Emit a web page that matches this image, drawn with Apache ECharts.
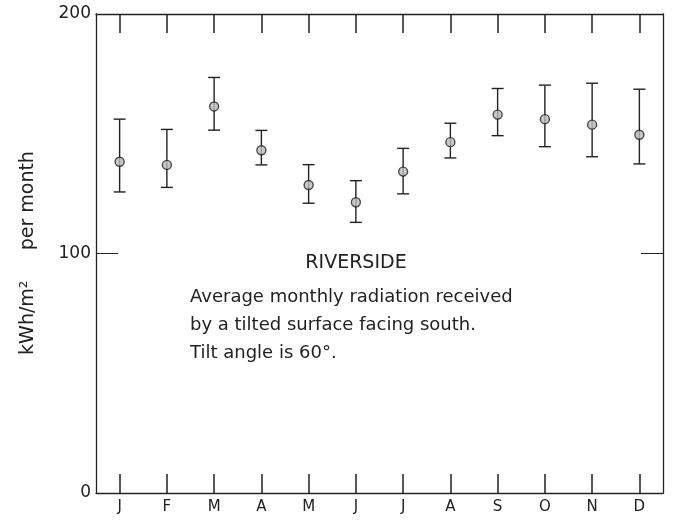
<!DOCTYPE html>
<html>
<head>
<meta charset="utf-8">
<script src="https://cdn.jsdelivr.net/npm/echarts@6/dist/echarts.min.js"></script>
<style>html,body{margin:0;padding:0;background:#fff;}#c{width:673px;height:520px;}</style>
</head>
<body>
<div id="c"></div>
<script>
const months = ['J','F','M','A','M','J','J','A','S','O','N','D'];
const meanValues = [138.3, 137.0, 161.4, 143.1, 128.6, 121.4, 134.2, 146.5, 158.0, 156.1, 153.8, 149.6];
const upperValues = [156.1, 151.8, 173.5, 151.4, 137.1, 130.4, 143.9, 154.4, 168.9, 170.3, 171.1, 168.6];
const lowerValues = [125.7, 127.6, 151.5, 137.0, 121.0, 113.0, 124.9, 139.9, 149.2, 144.6, 140.4, 137.4];
const yTicks = [0, 100, 200];
const titleText = 'RIVERSIDE';
const noteLines = ['Average monthly radiation received', 'by a tilted surface facing south.', 'Tilt angle is 60°.'];
const yAxisTitle = 'kWh/m²     per month';

const FONT = 'DejaVu Sans';
const INK = '#222';
const chart = echarts.init(document.getElementById('c'));

const errData = months.map((m, i) => [i, lowerValues[i], upperValues[i]]);

const xCommon = {
  type: 'category', data: months,
  axisLine: {show: true, onZero: false, lineStyle: {color: INK, width: 1.3}},
  axisTick: {show: true, inside: true, alignWithLabel: true, length: 19, lineStyle: {color: INK, width: 1.5}},
  splitLine: {show: false}
};

chart.setOption({
  animation: false,
  backgroundColor: '#fff',
  grid: {left: 96, right: 10, top: 14, bottom: 27, containLabel: false},
  xAxis: [
    Object.assign({}, xCommon, {position: 'bottom',
      axisLabel: {show: true, color: INK, fontFamily: FONT, fontSize: 15, margin: 7}}),
    Object.assign({}, xCommon, {position: 'top', axisLabel: {show: false}})
  ],
  yAxis: [{
    type: 'value', min: 0, max: 200, interval: 100, position: 'left',
    axisLine: {show: true, onZero: false, lineStyle: {color: INK, width: 1.3}},
    axisTick: {show: true, inside: true, length: 22, lineStyle: {color: INK, width: 1}},
    axisLabel: {color: INK, fontFamily: FONT, fontSize: 17, margin: 5,
      formatter: v => yTicks.includes(v) ? String(v) : ''},
    splitLine: {show: false}
  }, {
    type: 'value', min: 0, max: 200, interval: 100, position: 'right',
    axisLine: {show: true, onZero: false, lineStyle: {color: INK, width: 1.3}},
    axisTick: {show: true, inside: true, length: 22, lineStyle: {color: INK, width: 1}},
    axisLabel: {show: false},
    splitLine: {show: false}
  }],
  graphic: [
    {type: 'text', x: 356, y: 263, style: {text: titleText, font: '19px "DejaVu Sans"', fill: INK, align: 'center', verticalAlign: 'middle', letterSpacing: 1}},
    {type: 'text', left: 190, top: 283, style: {text: noteLines.join('\n'), font: '18px "DejaVu Sans"', fill: INK, lineHeight: 28}},
    {type: 'text', x: 28, y: 253, rotation: Math.PI / 2, style: {text: yAxisTitle, font: '19px "DejaVu Sans"', fill: INK, align: 'center', verticalAlign: 'middle', letterSpacing: 2}}
  ],
  series: [{
    type: 'custom',
    data: errData,
    renderItem: function (params, api) {
      const x = api.value(0);
      const lo = api.coord([x, api.value(1)]);
      const hi = api.coord([x, api.value(2)]);
      const hw = 6;
      const st = {stroke: INK, lineWidth: 1.4};
      return {type: 'group', children: [
        {type: 'line', shape: {x1: lo[0], y1: lo[1], x2: hi[0], y2: hi[1]}, style: st},
        {type: 'line', shape: {x1: lo[0] - hw, y1: lo[1], x2: lo[0] + hw, y2: lo[1]}, style: st},
        {type: 'line', shape: {x1: hi[0] - hw, y1: hi[1], x2: hi[0] + hw, y2: hi[1]}, style: st}
      ]};
    },
    z: 2
  }, {
    type: 'scatter',
    data: meanValues,
    symbol: 'circle', symbolSize: 9,
    itemStyle: {color: '#bbb', borderColor: INK, borderWidth: 1.4},
    z: 3
  }]
});
</script>
</body>
</html>
